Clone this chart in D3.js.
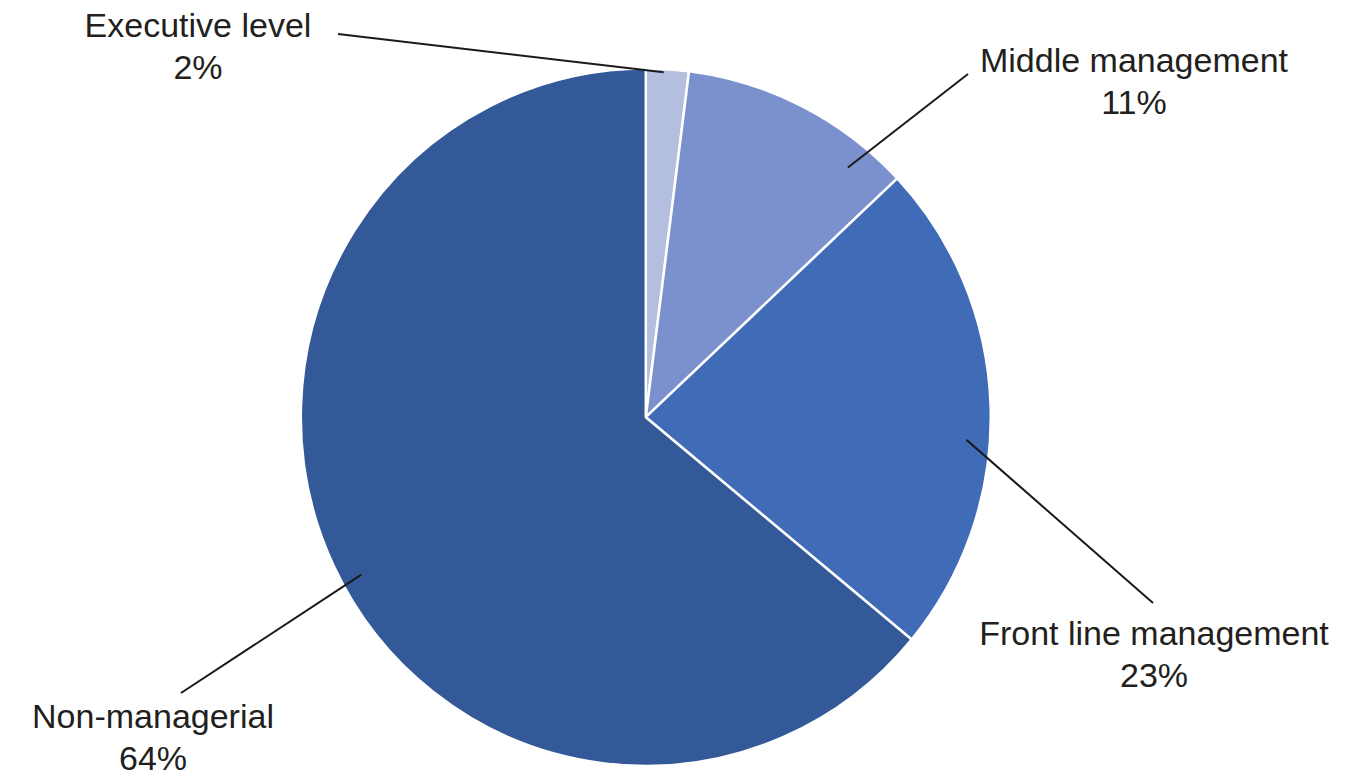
<!DOCTYPE html>
<html>
<head>
<meta charset="utf-8">
<script src="https://cdn.jsdelivr.net/npm/d3@7"></script>
<style>
  html, body { margin: 0; padding: 0; background: #ffffff; }
  svg { display: block; }
</style>
</head>
<body>
<svg id="chart" width="1371" height="776"></svg>
<script>
// ---- data ----
const categories = ["Executive level", "Middle management", "Front line management", "Non-managerial"];
const values = [2, 11, 23, 64];
const valueLabels = ["2%", "11%", "23%", "64%"];

// ---- styling / layout (kept apart from data) ----
const colors = ["#b4bfe0", "#7a91cd", "#3f6bb7", "#335999"];
const cx = 645.8, cy = 417.2, radius = 345, yScale = 1.011;
// label layout: text centre x, first baseline y, leader line (inner angle offset/radius fraction, outer point)
const labelLayout = [
  { tx: 198, ty: 37, angleOffset: -0.6, rFrac: 0.99, ox: 338, oy: 34 },
  { tx: 1134, ty: 72, angleOffset: 12.3, rFrac: 0.925, ox: 968, oy: 74 },
  { tx: 1154, ty: 645, angleOffset: 5.8, rFrac: 0.932, ox: 1153, oy: 603 },
  { tx: 153, ty: 728, angleOffset: -3.5, rFrac: 0.94, ox: 181, oy: 693 }
];

const svg = d3.select("#chart");
const g = svg.append("g").attr("transform", `translate(${cx},${cy}) scale(1,${yScale})`);

const pie = d3.pie().sort(null).value(d => d).startAngle(0).endAngle(2 * Math.PI);
const arcs = pie(values);
const arc = d3.arc().innerRadius(0).outerRadius(radius);

g.selectAll("path.slice")
  .data(arcs)
  .enter().append("path")
  .attr("class", "slice")
  .attr("d", arc)
  .attr("fill", (d, i) => colors[i])
  .attr("stroke", "#ffffff")
  .attr("stroke-width", 2.5)
  .attr("vector-effect", "non-scaling-stroke")
  .attr("stroke-linejoin", "round");

// leader lines
arcs.forEach((d, i) => {
  const L = labelLayout[i];
  const mid = (d.startAngle + d.endAngle) / 2 + L.angleOffset * Math.PI / 180;
  const r = radius * L.rFrac;
  const ix = cx + r * Math.sin(mid);
  const iy = cy - r * yScale * Math.cos(mid);
  svg.append("line")
    .attr("x1", ix).attr("y1", iy)
    .attr("x2", L.ox).attr("y2", L.oy)
    .attr("stroke", "#1a1a1a")
    .attr("stroke-width", 2);
});

// labels
const fontFamily = "'Liberation Sans', Arial, Helvetica, sans-serif";
categories.forEach((c, i) => {
  const L = labelLayout[i];
  const t = svg.append("text")
    .attr("x", L.tx).attr("y", L.ty)
    .attr("text-anchor", "middle")
    .attr("font-family", fontFamily)
    .attr("font-size", 34)
    .attr("fill", "#231f20");
  t.append("tspan").attr("x", L.tx).attr("y", L.ty).text(c);
  t.append("tspan").attr("x", L.tx).attr("y", L.ty + 42).text(valueLabels[i]);
});
</script>
</body>
</html>
